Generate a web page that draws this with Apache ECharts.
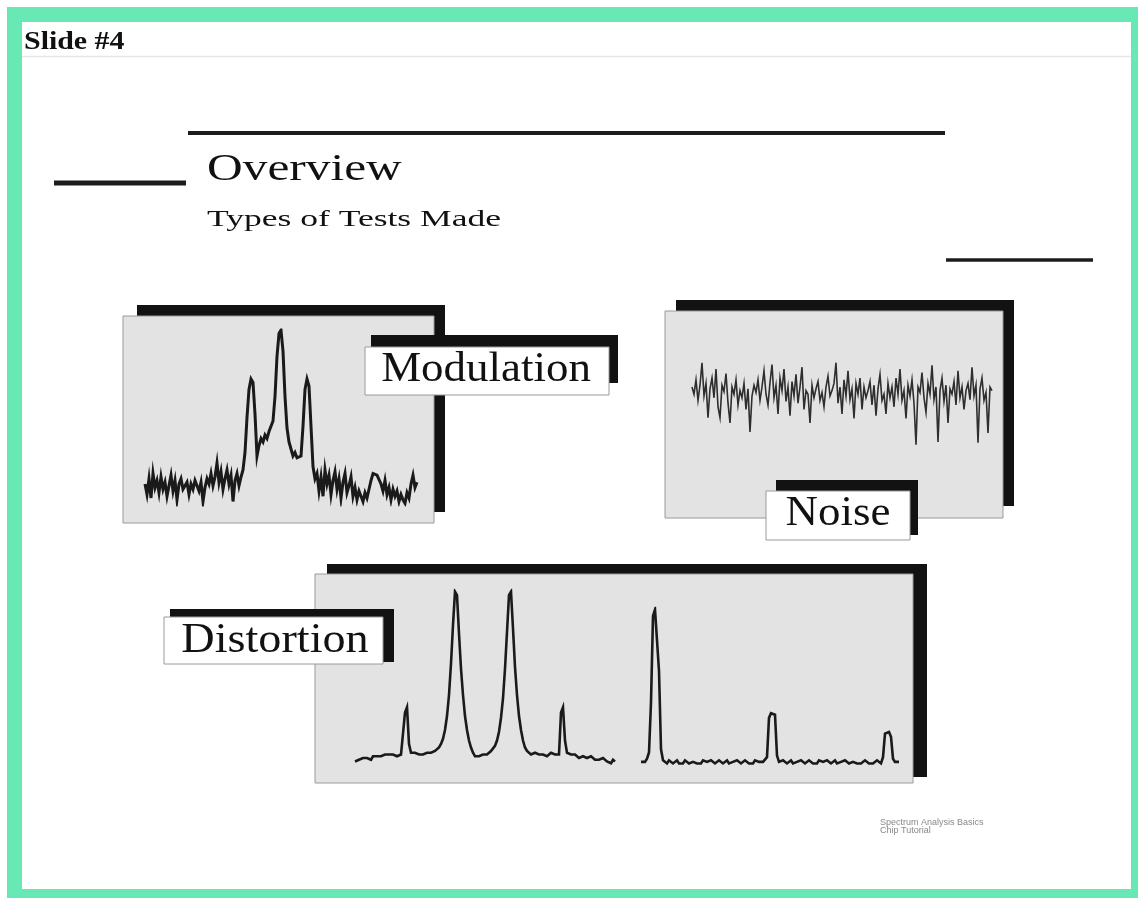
<!DOCTYPE html>
<html>
<head>
<meta charset="utf-8">
<script src="https://cdn.jsdelivr.net/npm/echarts@6/dist/echarts.min.js"></script>
<style>
html,body{margin:0;padding:0;background:#fff;}
#chart{width:1138px;height:898px;}
</style>
</head>
<body>
<div id="chart"></div>
<script>
// ---- Texts ----
const slideTitle = "Slide #4";
const mainTitle = "Overview";
const subTitle = "Types of Tests Made";
const panelLabels = ["Modulation", "Noise", "Distortion"];
const sourceNote = ["Spectrum Analysis Basics", "Chip Tutorial"];

// ---- Trace values (relative level 0..100) ----
const modulationLevels = [
  12, 6, 15, 4, 18, 10, 14, 7, 16, 9,
  13, 5, 11, 17, 8, 14, 3, 12, 15, 9,
  10, 13, 6, 12, 9, 14, 11, 8, 13, 2,
  10, 15, 12, 18, 11, 16, 24, 13, 19, 9,
  15, 20, 12, 17, 2, 14, 18, 11, 16, 20,
  30, 50, 66, 72, 70, 52, 28, 34, 38, 36,
  40, 38, 42, 45, 48, 62, 85, 98, 100, 88,
  62, 44, 36, 32, 28, 30, 27, 26, 28, 45,
  66, 72, 68, 45, 22,
  15, 18, 8, 16, 5, 20, 12, 17, 6, 14,
  19, 9, 15, 4, 13, 18, 7, 11, 16, 5,
  10, 3, 8, 5, 2, 7, 4, 9, 14, 18,
  19, 17, 18, 12, 8, 14, 6, 10, 3, 9,
  5, 8, 2, 6, 3, 1, 7, 4, 12, 17,
  10, 13
];

const noiseLevels = [
  70, 62, 78, 55, 72, 97, 60, 74, 36, 68,
  80, 58, 90, 48, 36, 72, 65, 85, 52, 30,
  70, 62, 78, 50, 66, 58, 74, 45, 68, 20,
  60, 72, 64, 78, 55, 70, 88, 62, 50, 75,
  95, 58, 72, 40, 80, 66, 90, 54, 70, 38,
  76, 60, 84, 52, 70, 92, 45, 66, 62, 30,
  72, 58, 68, 76, 55, 64, 48, 70, 82, 60,
  66, 74, 97, 52, 70, 40, 78, 60, 88, 56,
  68, 35, 74, 62, 80, 45, 70, 58, 66, 76,
  50, 72, 38, 68, 84, 55, 62, 40, 74, 58,
  70, 48, 80, 62, 90, 55, 66, 35, 72, 60,
  78, 52, 6, 70, 64, 86, 58, 42, 74, 62,
  94, 56, 70, 9, 66, 80, 54, 72, 30, 68,
  62, 76, 50, 88, 58, 70, 45, 66, 74, 56,
  92, 60, 72, 8, 68, 80, 55, 64, 19, 70,
  66
];

const distortionTwoToneLevels = [
  2, 3, 3, 2, 4, 3, 4, 4, 3, 5,
  4, 5, 4, 5, 5, 6, 5, 6, 5, 6,
  6, 5, 6, 6, 7, 30, 33, 12, 7, 6,
  7, 6, 6, 7, 6, 7, 7, 6, 7, 7,
  8, 9, 10, 12, 15, 20, 28, 40, 58, 80,
  99, 97, 75, 55, 40, 28, 20, 14, 10, 7,
  5, 6, 5, 4, 6, 7, 6, 7, 8, 9,
  11, 14, 19, 27, 38, 55, 76, 97, 99, 78,
  56, 40, 28, 20, 14, 10, 8, 7, 6, 6,
  7, 6, 6, 7, 6, 6, 5, 6, 7, 6,
  6, 5, 6, 30, 33, 14, 7, 6, 6, 5,
  6, 5, 4, 5, 5, 4, 4, 3, 5, 4,
  3, 4, 3, 2, 4, 3, 2, 3, 1, 3,
  2
];

const distortionHarmonicLevels = [
  2, 3, 2, 4, 8, 40, 95, 99, 98, 60,
  10, 3, 2, 1, 3, 2, 1, 2, 3, 1,
  2, 1, 3, 2, 1, 2, 2, 3, 1, 2,
  1, 3, 2, 2, 1, 3, 2, 1, 2, 3,
  2, 1, 2, 3, 1, 2, 2, 1, 3, 2,
  1, 2, 3, 2, 1, 2, 1, 3, 2, 2,
  1, 2, 3, 5, 30, 33, 33, 32, 6, 2,
  1, 3, 2, 1, 2, 3, 1, 2, 2, 1,
  3, 2, 1, 2, 3, 2, 1, 2, 1, 3,
  2, 2, 1, 3, 2, 1, 2, 3, 1, 2,
  2, 1, 3, 2, 1, 2, 2, 3, 1, 2,
  1, 2, 3, 2, 1, 2, 1, 2, 3, 2,
  1, 5, 20, 21, 21, 18, 4, 2, 2, 2
];

const idx = arr => arr.map((_, i) => i);

const serif = '"Liberation Serif", "Times New Roman", serif';
const SH = '#121212';
const PANEL = '#e3e3e3';

function rect(x, y, w, h, fill, stroke, z) {
  return { type: 'rect', z: z, silent: true,
    shape: { x: x, y: y, width: w, height: h },
    style: { fill: fill, stroke: stroke || null, lineWidth: stroke ? 1 : 0 } };
}
function hline(x1, x2, y, w, color, z) {
  return { type: 'line', z: z, silent: true,
    shape: { x1: x1, y1: y, x2: x2, y2: y },
    style: { stroke: color, lineWidth: w } };
}
function txt(text, x, y, size, opts) {
  opts = opts || {};
  return { type: 'text', z: opts.z || 6, silent: true, x: x, y: y,
    scaleX: opts.scaleX || 1,
    style: { text: text, fill: opts.fill || '#111',
      font: (opts.weight || 'normal') + ' ' + size + 'px ' + (opts.family || serif),
      align: opts.align || 'left', verticalAlign: 'middle' } };
}

const graphics = [
  // frame
  rect(7, 7, 1131, 891, '#68e8b4', null, 0),
  rect(22, 22, 1109, 867, '#ffffff', null, 0),
  hline(22, 1131, 56.5, 1.5, '#e8e8e8', 0),
  txt(slideTitle, 24, 42, 26, { weight: 'bold', scaleX: 1.15 }),
  // title lines
  hline(188, 945, 133, 4, '#1c1c1c', 1),
  hline(54, 186, 183, 5, '#1c1c1c', 1),
  hline(946, 1093, 260, 3.5, '#1c1c1c', 1),
  txt(mainTitle, 207, 170, 38, { scaleX: 1.3 }),
  txt(subTitle, 207, 220, 24, { scaleX: 1.48 }),
  // modulation panel
  rect(137, 305, 308, 207, SH, null, 1),
  rect(123, 316, 311, 207, PANEL, '#9a9a9a', 1),
  // noise panel
  rect(676, 300, 338, 206, SH, null, 1),
  rect(665, 311, 338, 207, PANEL, '#9a9a9a', 1),
  // distortion panel
  rect(327, 564, 600, 213, SH, null, 1),
  rect(315, 574, 598, 209, PANEL, '#9a9a9a', 1),
  // labels
  rect(371, 335, 247, 48, SH, null, 5),
  rect(365, 347, 244, 48, '#ffffff', '#9a9a9a', 5),
  txt(panelLabels[0], 486, 370, 42, { align: 'center', scaleX: 1.07 }),
  rect(776, 480, 142, 55, SH, null, 5),
  rect(766, 491, 144, 49, '#ffffff', '#9a9a9a', 5),
  txt(panelLabels[1], 838, 514, 42, { align: 'center', scaleX: 1.07 }),
  rect(170, 609, 224, 53, SH, null, 5),
  rect(164, 617, 219, 47, '#ffffff', '#9a9a9a', 5),
  txt(panelLabels[2], 275, 641, 42, { align: 'center', scaleX: 1.1 }),
  // source note
  txt(sourceNote[0], 880, 823, 9, { family: '"Liberation Sans", Arial, sans-serif', fill: '#888' }),
  txt(sourceNote[1], 880, 831, 9, { family: '"Liberation Sans", Arial, sans-serif', fill: '#888' })
];

const grids = [
  { left: 145, top: 330, width: 272, height: 175 },
  { left: 692, top: 360, width: 300, height: 90 },
  { left: 355, top: 590, width: 260, height: 175 },
  { left: 641, top: 608, width: 258, height: 157 }
];
const traces = [modulationLevels, noiseLevels, distortionTwoToneLevels, distortionHarmonicLevels];
const traceWidth = [3, 1.6, 2.6, 2.6];
const traceColor = ['#1a1a1a', '#2e2e2e', '#1a1a1a', '#1a1a1a'];

const option = {
  backgroundColor: '#ffffff',
  animation: false,
  grid: grids.map(g => Object.assign({ containLabel: false, show: false }, g)),
  xAxis: traces.map((t, i) => ({ type: 'category', gridIndex: i, data: idx(t), boundaryGap: false, show: false })),
  yAxis: traces.map((t, i) => ({ type: 'value', gridIndex: i, min: 0, max: 100, show: false })),
  series: traces.map((t, i) => ({
    type: 'line', xAxisIndex: i, yAxisIndex: i, data: t, showSymbol: false, symbol: 'none',
    z: 3, silent: true,
    lineStyle: { color: traceColor[i], width: traceWidth[i], join: 'miter' }
  })),
  graphic: graphics
};

const chart = echarts.init(document.getElementById('chart'), null, { renderer: 'canvas' });
chart.setOption(option);
</script>
</body>
</html>
